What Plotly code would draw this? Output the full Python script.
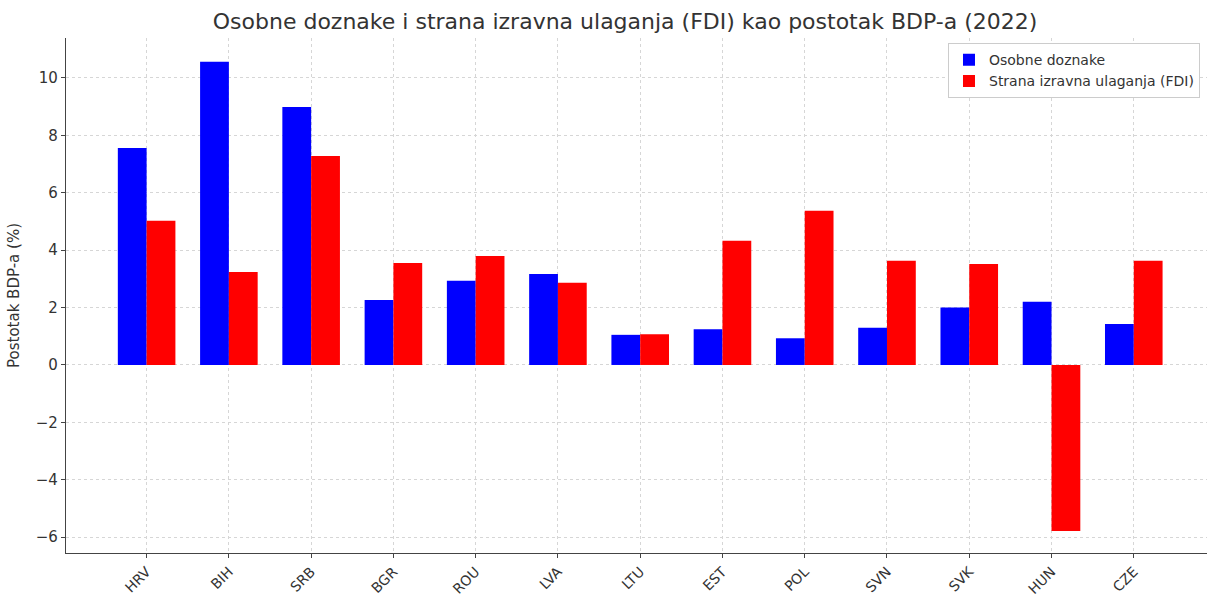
import plotly.graph_objects as go

countries = ["HRV", "BIH", "SRB", "BGR", "ROU", "LVA", "LTU", "EST", "POL", "SVN", "SVK", "HUN", "CZE"]
remittances = [7.56, 10.56, 8.99, 2.26, 2.93, 3.17, 1.05, 1.24, 0.93, 1.30, 2.00, 2.20, 1.43]
fdi = [5.02, 3.24, 7.28, 3.55, 3.80, 2.86, 1.07, 4.33, 5.37, 3.63, 3.52, -5.78, 3.63]

fig = go.Figure()
fig.add_trace(go.Bar(x=countries, y=remittances, name="Osobne doznake",
                     marker=dict(color="#0000ff", line=dict(width=0))))
fig.add_trace(go.Bar(x=countries, y=fdi, name="Strana izravna ulaganja (FDI)",
                     marker=dict(color="#ff0000", line=dict(width=0))))

font_color = "#333333"
fig.update_layout(
    width=1209, height=596,
    margin=dict(l=66, r=2, t=38, b=43, autoexpand=False),
    paper_bgcolor="white", plot_bgcolor="white",
    font=dict(family="DejaVu Sans", size=14, color=font_color),
    title=dict(text="Osobne doznake i strana izravna ulaganja (FDI) kao postotak BDP-a (2022)",
               x=0.517, xanchor="center", y=0.965, yanchor="middle",
               font=dict(size=22, color=font_color)),
    barmode="group", bargap=0.3, bargroupgap=0,
    legend=dict(x=0.773, y=0.99, xanchor="left", yanchor="top",
                bgcolor="white", bordercolor="#cccccc", borderwidth=1,
                font=dict(size=14, color=font_color)),
    xaxis=dict(range=[-0.98, 12.89], tickangle=-45, showline=True, linecolor="#444444",
               linewidth=1.2, ticks="outside", ticklen=4, tickcolor="#444444",
               showgrid=True, gridcolor="#d6d6d6", griddash="3px,3px", gridwidth=1,
               tickfont=dict(size=14), automargin=False),
    yaxis=dict(range=[-6.55, 11.39], dtick=2, showline=True, linecolor="#444444",
               linewidth=1.2, ticks="outside", ticklen=4, tickcolor="#444444",
               showgrid=True, gridcolor="#d6d6d6", griddash="3px,3px", gridwidth=1,
               zeroline=False, tickfont=dict(size=15), automargin=False,
               title=dict(text="Postotak BDP-a (%)", font=dict(size=15), standoff=12)),
)

fig.write_html("out.html", config={"displayModeBar": False},
               post_script="document.body.style.margin='0';document.body.style.overflow='hidden';")
